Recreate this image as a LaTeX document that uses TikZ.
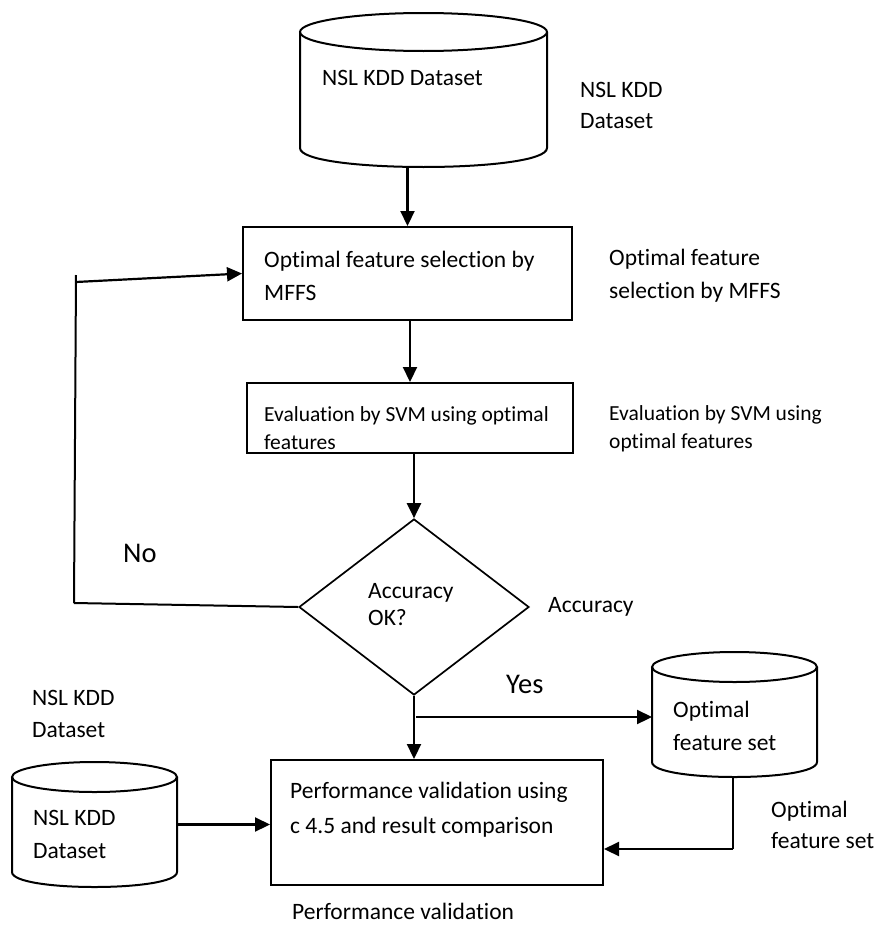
\documentclass[tikz,border=0pt]{standalone}
\usepackage{fontspec}
\setmainfont{Carlito}[Ligatures=NoCommon]
\usetikzlibrary{arrows.meta,shapes.geometric,fit}
\newcommand\mycyl[6]{% name,x1,y1,x2,y2,ry
  \node[inner sep=0pt,outer sep=0pt,fit={(#2,#3)(#4,#5)}] (#1) {};
  \pgfmathsetmacro\mycx{(#2+#4)/2}\pgfmathsetmacro\myrx{(#4-#2)/2}%
  \pgfmathsetmacro\myya{#3+#6}\pgfmathsetmacro\myyb{#5-#6}\pgfmathsetmacro\myyc{#5+#6/3}%
  \draw[line] (\mycx,\myya) ellipse [x radius=\myrx pt, y radius=#6pt];
  \draw[line] (#2,\myya) -- (#2,\myyb) .. controls (#2,\myyc) and (#4,\myyc) .. (#4,\myyb) -- (#4,\myya);
}
\begin{document}
\begin{tikzpicture}[x=1pt,y=-1pt,
  line/.style={line width=2pt},
  arr/.style={line width=2.2pt,-{Triangle[length=15pt,width=14pt]}},
  boxshape/.style={draw,line width=2pt,inner sep=0pt},
  txt/.style={anchor=base west,inner sep=0pt,align=left,font=\fontsize{23.5pt}{32pt}\selectfont},
  small/.style={txt,font=\fontsize{21.5pt}{28pt}\selectfont},
  big/.style={txt,font=\fontsize{28.5pt}{34pt}\selectfont}]
\useasboundingbox (0,0) rectangle (879,926);

% shapes
\mycyl{cyl1}{300}{13}{547}{167}{19}
\node[boxshape,fit={(243,227)(572,320)}] (box1) {};
\node[boxshape,fit={(247,383)(573,453)}] (box2) {};
\node[draw,diamond,line width=1.7pt,minimum width=230pt,minimum height=176pt,inner sep=0pt] (dia) at (414,607) {};
\mycyl{cyl2}{652}{652}{817}{777}{15}
\node[boxshape,fit={(271,760)(603,885)}] (box3) {};
\mycyl{cyl3}{12}{762}{177}{887}{15}

% texts (anchor = baseline of the last line)
\node[txt] (c1t) at (322,85) {NSL KDD Dataset};
\node[txt,font=\fontsize{23.5pt}{31pt}\selectfont] (l1) at (580,128) {NSL KDD\\Dataset};
\node[txt,font=\fontsize{23.5pt}{33pt}\selectfont] (b1t) at (264,300) {Optimal feature selection by\\MFFS};
\node[txt,font=\fontsize{23.5pt}{33pt}\selectfont] (l2) at (609,298) {Optimal feature\\selection by MFFS};
\node[small] (b2t) at (264,449) {Evaluation by SVM using optimal\\features};
\node[small] (l3) at (609,448) {Evaluation by SVM using\\optimal features};
\node[txt,font=\fontsize{23.5pt}{27pt}\selectfont] (dt) at (368,625) {Accuracy\\OK?};
\node[txt] (l4) at (548,612) {Accuracy};
\node[big] (no) at (123,562) {No};
\node[big] (yes) at (506,693) {Yes};
\node[txt,font=\fontsize{23.5pt}{33pt}\selectfont] (c2t) at (673,750) {Optimal\\feature set};
\node[txt,font=\fontsize{23.5pt}{31pt}\selectfont] (l5) at (771,848) {Optimal\\feature set};
\node[txt,font=\fontsize{23.5pt}{35pt}\selectfont] (b3t) at (290,833) {Performance validation using\\c 4.5 and result comparison};
\node[txt] (l6) at (292,919) {Performance validation};
\node[txt,font=\fontsize{23.5pt}{33pt}\selectfont] (c3t) at (33,858) {NSL KDD\\Dataset};
\node[txt] (l7) at (32,737) {NSL KDD\\Dataset};

% helper coordinates
\coordinate (loopbot) at (74,603);
\coordinate (looptop) at (76,275);
\coordinate (loopjoin) at (76,282);
\coordinate (yesj) at (416,717);
\coordinate (fsj) at (733,849);

% connectors
\draw[arr] (cyl1.south -| box1.north) -- (box1.north);
\draw[arr] (box1.south -| box2.north) -- (box2.north);
\draw[arr] (box2.south -| dia.north) -- (dia.north);
\draw[line] (dia.west) -- (loopbot);
\draw[line] (loopbot) -- (looptop);
\draw[arr] (loopjoin) -- (box1.west);
\draw[arr] (dia.south) -- (dia.south |- box3.north);
\draw[arr] (yesj) -- (cyl2.west |- yesj);
\draw[line width=1.5pt] (cyl2.south -| fsj) -- (fsj);
\draw[arr] (fsj) -- (fsj -| box3.east);
\draw[arr] (cyl3.east) -- (cyl3.east -| box3.west);
\end{tikzpicture}
\end{document}
